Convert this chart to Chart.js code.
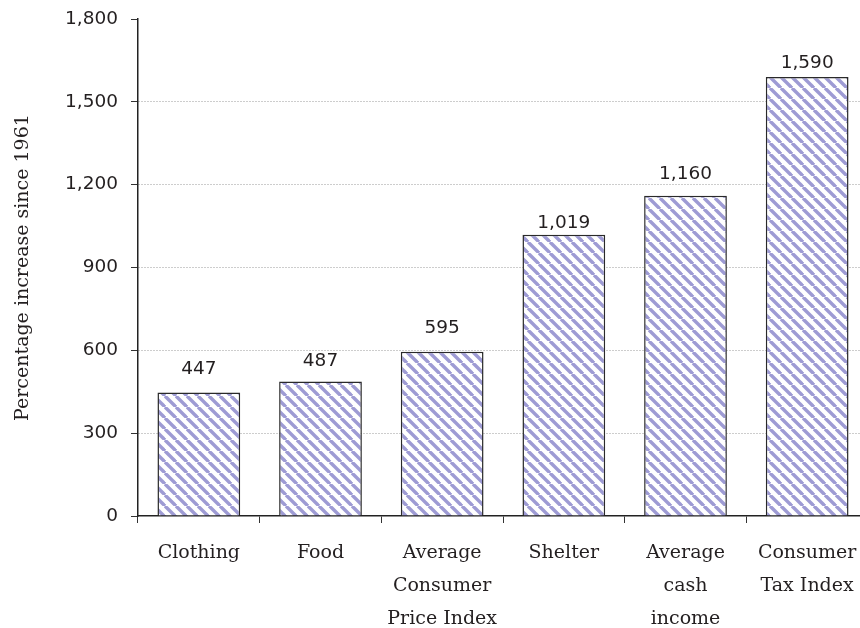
<!DOCTYPE html>
<html>
<head>
<meta charset="utf-8">
<script src="https://cdn.jsdelivr.net/npm/chart.js@4"></script>
<style>
  html, body { margin: 0; padding: 0; background: #fff; overflow: hidden; }
  #wrap { width: 860px; height: 628px; overflow: hidden; position: relative; }
  #box { width: 880px; height: 628px; }
</style>
</head>
<body>
<div id="wrap"><div id="box"><canvas id="chart"></canvas></div></div>
<script>
const categories = [
    'Clothing',
    'Food',
    ['Average', 'Consumer', 'Price Index'],
    'Shelter',
    ['Average', 'cash', 'income'],
    ['Consumer', 'Tax Index']
];
const increases = [447, 487, 595, 1019, 1160, 1590];
const yTicks = [0, 300, 600, 900, 1200, 1500, 1800];
// gap (px) between each bar top and its value label, as in the original
const labelGaps = [19, 16, 19, 7, 17, 9];

const textColor = '#231f20';
const serif = "'DejaVu Serif', serif";
const sans = "'DejaVu Sans', sans-serif";

function makeStripes() {
    const size = 11;
    const c = document.createElement('canvas');
    c.width = size;
    c.height = size;
    const g = c.getContext('2d');
    g.fillStyle = '#ffffff';
    g.fillRect(0, 0, size, size);
    g.strokeStyle = '#9e9bd4';
    g.lineWidth = 3.4;
    for (let k = -1; k <= 1; k++) {
        g.beginPath();
        g.moveTo(k * size, 0);
        g.lineTo(k * size + size, size);
        g.stroke();
    }
    return g.createPattern(c, 'repeat');
}

// value labels above each bar
const valueLabels = {
    id: 'valueLabels',
    afterDatasetsDraw(chart) {
        const ctx = chart.ctx;
        const meta = chart.getDatasetMeta(0);
        ctx.save();
        ctx.font = '18.5px ' + sans;
        ctx.fillStyle = textColor;
        ctx.textAlign = 'center';
        ctx.textBaseline = 'alphabetic';
        meta.data.forEach((bar, i) => {
            ctx.fillText(increases[i].toLocaleString('en-US'), bar.x, bar.y - labelGaps[i]);
        });
        ctx.restore();
    }
};

const ctx = document.getElementById('chart').getContext('2d');
new Chart(ctx, {
    type: 'bar',
    data: {
        labels: categories,
        datasets: [{
            data: increases,
            backgroundColor: makeStripes(),
            borderColor: '#2a2a2a',
            borderWidth: 1.5,
            categoryPercentage: 1,
            barPercentage: 0.68
        }]
    },
    options: {
        responsive: true,
        maintainAspectRatio: false,
        animation: false,
        layout: { padding: { top: 19, right: 12, left: 0, bottom: 0 } },
        plugins: {
            legend: { display: false },
            tooltip: { enabled: false }
        },
        scales: {
            x: {
                afterFit(scale) {
                    scale.height = 112;
                },
                grid: {
                    offset: true,
                    drawOnChartArea: false,
                    tickLength: 7,
                    color: '#333',
                    tickColor: '#333'
                },
                border: { color: '#222', width: 1.5 },
                ticks: {
                    color: textColor,
                    font: { family: serif, size: 19, lineHeight: '33px' },
                    padding: 14,
                    maxRotation: 0,
                    autoSkip: false
                }
            },
            y: {
                min: 0,
                max: 1800,
                afterBuildTicks(scale) {
                    scale.ticks = yTicks.map(v => ({ value: v }));
                },
                afterFit(scale) {
                    scale.width = 138;
                    scale.paddingTop = 0;
                    scale.paddingBottom = 0;
                },
                grid: {
                    tickLength: 7,
                    color: ctx => (ctx.tick && (ctx.tick.value === 0 || ctx.tick.value === 1800)) ? 'rgba(0,0,0,0)' : '#9a9a9a',
                    tickColor: '#333',
                    tickBorderDash: [],
                    lineWidth: 1
                },
                border: { color: '#222', width: 1.5, dash: [1, 2] },
                ticks: {
                    color: textColor,
                    font: { family: sans, size: 18.5 },
                    padding: 13,
                    callback: v => v.toLocaleString('en-US')
                },
                title: {
                    display: true,
                    text: 'Percentage increase since 1961',
                    color: textColor,
                    font: { family: serif, size: 19 },
                    padding: { top: 12, bottom: 0 }
                }
            }
        }
    },
    plugins: [valueLabels]
});
</script>
</body>
</html>
